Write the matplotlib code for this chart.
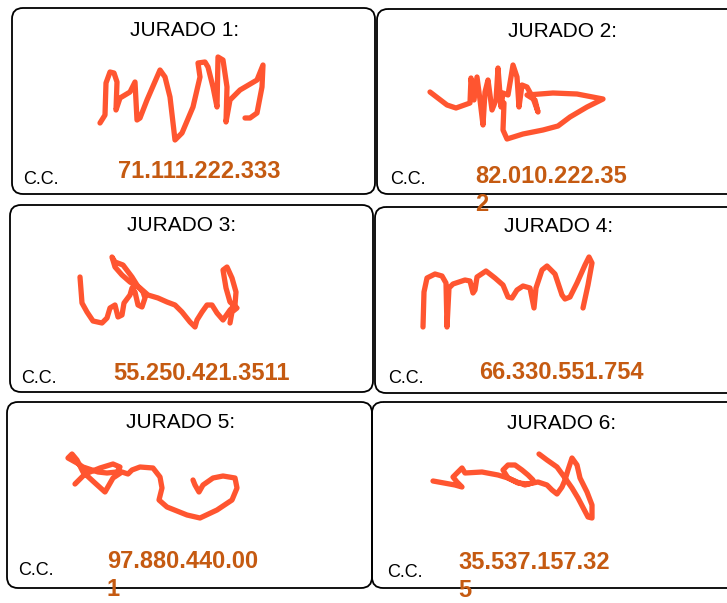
import matplotlib
matplotlib.use("Agg")
import matplotlib.pyplot as plt
from matplotlib.patches import FancyBboxPatch

# ---- data ----
titles = ["JURADO 1:", "JURADO 2:", "JURADO 3:", "JURADO 4:", "JURADO 5:", "JURADO 6:"]
id_numbers = ["71.111.222.333", "82.010.222.35\n2", "55.250.421.3511",
              "66.330.551.754", "97.880.440.00\n1", "35.537.157.32\n5"]
cc_label = "C.C."

sig1_x = [100,105,106,110,114,117,116,120,130,135,137,140,147,160,165,170,175,182,193,200,198,205,208,213,217,218,223,227,226,230,240,257,263,262,257,250,245]
sig1_y = [123,115,83,72,73,82,110,98,92,82,120,118,100,70,77,97,140,133,107,77,63,62,67,87,107,57,60,87,122,100,90,80,65,87,113,118,118]

sig2_x = [430,447,456,470,471,474,477,480,483,485,488,492,496,498,501,503,508,513,517,519,522,527,533,538,535,527,553,577,603,587,570,558,543,523,507,503,504]
sig2_y = [92,105,108,103,78,100,77,100,125,92,80,110,100,68,107,93,95,65,77,107,85,87,98,112,100,95,93,94,99,107,117,126,130,134,139,130,103]

sig3_x = [80,82,87,93,102,107,110,115,118,122,124,130,132,135,138,142,145,143,137,132,123,115,112,115,122,130,140,148,158,167,175,182,190,195,197,202,207,212,217,223,230,235,236,232,227,223,226,230,237,232,230]
sig3_y = [277,303,312,321,323,318,308,305,317,315,303,295,288,292,305,307,298,292,285,277,265,262,257,267,275,282,288,295,298,302,305,312,322,327,320,312,305,305,313,320,310,305,292,278,267,270,288,302,308,312,323]

sig4_x = [423,424,427,435,442,446,447,449,453,465,470,473,475,477,486,495,503,508,512,517,523,530,534,536,542,547,555,562,565,570,577,585,589,592,588,583]
sig4_y = [327,292,278,274,276,283,327,288,284,280,281,293,290,277,271,278,285,297,298,290,286,288,308,288,270,266,274,295,299,297,283,265,257,263,285,308]

sig5_x = [75,85,100,113,120,117,107,98,92,83,77,68,72,77,83,95,105,113,122,128,132,140,153,160,162,159,167,187,200,217,232,237,235,223,213,203,199,195,193]
sig5_y = [484,474,468,464,467,472,473,472,470,467,463,458,454,460,472,483,492,478,472,474,470,467,468,477,488,500,507,515,518,510,500,488,478,476,478,485,492,485,480]

sig6_x = [433,455,462,457,453,458,462,465,482,498,508,517,525,532,533,528,522,515,508,503,508,518,528,538,547,552,557,562,565,568,572,577,580,587,592,592,588,578,572,565,557,547,539]
sig6_y = [481,485,487,482,477,472,468,473,472,475,478,482,485,483,480,475,470,465,465,470,478,483,484,482,485,490,494,487,480,470,458,465,478,492,505,518,517,498,488,478,467,460,454]

signatures = [(sig1_x, sig1_y), (sig2_x, sig2_y), (sig3_x, sig3_y),
              (sig4_x, sig4_y), (sig5_x, sig5_y), (sig6_x, sig6_y)]

# ---- layout ----
boxes = [(12, 8, 375, 194), (377, 9, 740, 194),
         (10, 205, 373, 392), (375, 207, 740, 393),
         (7, 402, 372, 588), (372, 402, 740, 588)]
title_pos = [(185, 36), (562, 37), (182, 231), (559, 232), (181, 428), (562, 429)]
number_pos = [(118, 178), (475, 183), (113, 380), (479, 379), (107, 568), (458, 569)]
cc_pos = [(23, 184), (390, 184), (21, 383), (388, 383), (18, 575), (387, 577)]
line_step = 28

fig = plt.figure(figsize=(7.27, 6.03), dpi=100)
ax = fig.add_axes([0, 0, 1, 1])
ax.set_xlim(0, 727)
ax.set_ylim(603, 0)
ax.axis("off")

font = "Liberation Sans"
sig_color = "#FF5530"
num_color = "#C55A11"

for (x0, y0, x1, y1) in boxes:
    ax.add_patch(FancyBboxPatch((x0, y0), x1 - x0, y1 - y0,
                                boxstyle="round,pad=0,rounding_size=11",
                                fill=False, edgecolor="black", linewidth=1.3))

for t, (x, y) in zip(titles, title_pos):
    ax.text(x, y, t, ha="center", va="baseline", fontsize=15,
            family=font, color="black")

for (x, y) in cc_pos:
    ax.text(x, y, cc_label, ha="left", va="baseline", fontsize=13,
            family=font, color="black")

for num, (x, y) in zip(id_numbers, number_pos):
    for i, part in enumerate(num.split("\n")):
        ax.text(x, y + i * line_step, part, ha="left", va="baseline",
                fontsize=17, fontweight="bold", family=font, color=num_color)

for sx, sy in signatures:
    ax.plot(sx, sy, color=sig_color, linewidth=3.8,
            solid_capstyle="round", solid_joinstyle="round")

fig.savefig("out.png", dpi=100, facecolor="white")
